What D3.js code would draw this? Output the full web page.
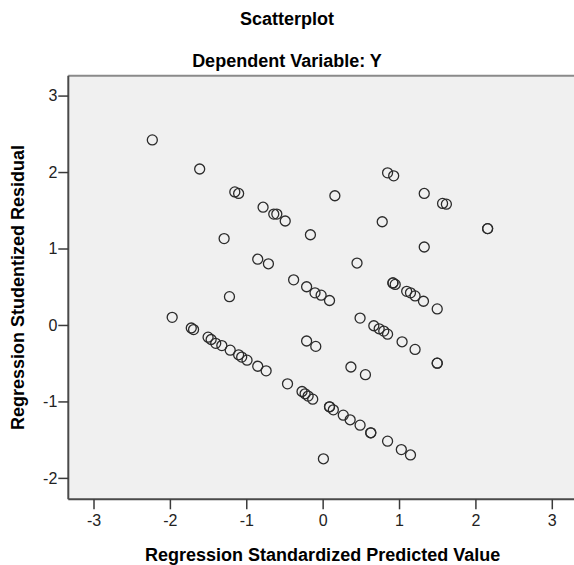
<!DOCTYPE html>
<html>
<head>
<meta charset="utf-8">
<script src="https://cdn.jsdelivr.net/npm/d3@7"></script>
<style>
  body { margin: 0; background: #fff; }
  text { font-family: Arial, "Liberation Sans", sans-serif; }
</style>
</head>
<body>
<div id="viz"></div>
<script>

// regression standardized predicted value (x) and studentized residual (y)
var predicted = [-2.23,-1.61,-1.15,-1.10,-0.78,-0.64,-0.60,-0.49,-0.16,-1.29,
  -0.85,-0.71,-0.38,0.85,0.93,0.16,1.33,1.57,1.62,0.78,
  2.16,2.16,1.33,0.45,-0.21,-0.10,-0.02,0.09,-1.22,-1.97,
  -1.72,-1.69,-1.50,-1.46,-1.40,-1.32,-1.21,-1.10,-1.06,-0.99,
  -0.85,-0.74,-0.46,-0.27,-0.23,-0.19,-0.13,-0.21,-0.09,0.92,
  0.92,0.95,1.10,1.15,1.21,1.32,1.50,0.49,0.67,0.74,
  0.80,0.85,1.04,1.21,1.50,1.50,0.37,0.56,0.09,0.09,
  0.14,0.27,0.36,0.49,0.63,0.63,0.85,1.03,1.15,0.01];

var residual = [2.42,2.04,1.74,1.72,1.54,1.45,1.45,1.36,1.18,1.13,
  0.86,0.80,0.59,1.99,1.95,1.69,1.72,1.59,1.58,1.35,
  1.26,1.26,1.02,0.81,0.50,0.42,0.39,0.32,0.37,0.10,
  -0.04,-0.06,-0.16,-0.19,-0.24,-0.27,-0.33,-0.39,-0.42,-0.46,
  -0.54,-0.60,-0.77,-0.87,-0.90,-0.93,-0.97,-0.21,-0.28,0.55,
  0.55,0.53,0.44,0.42,0.38,0.31,0.21,0.09,-0.01,-0.05,
  -0.08,-0.12,-0.22,-0.32,-0.50,-0.50,-0.55,-0.65,-1.07,-1.07,
  -1.11,-1.18,-1.24,-1.31,-1.41,-1.41,-1.52,-1.63,-1.70,-1.75];

var xTicks = [-3, -2, -1, 0, 1, 2, 3];
var yTicks = [-2, -1, 0, 1, 2, 3];

var title = "Scatterplot",
  subtitle = "Dependent Variable: Y",
  xTitle = "Regression Standardized Predicted Value",
  yTitle = "Regression Studentized Residual";

var width = 574, height = 565,
  plotL = 68.3, plotR = 577, plotT = 75.7, plotB = 499.3;

var x = d3.scaleLinear().domain([-3.33, 3.33]).range([plotL, plotR]);
var y = d3.scaleLinear().domain([-2.28, 3.26]).range([plotB, plotT]);

var svg = d3.select("#viz").append("svg")
  .attr("width", width)
  .attr("height", height);

// plot background
svg.append("rect")
  .attr("x", plotL).attr("y", plotT)
  .attr("width", plotR - plotL).attr("height", plotB - plotT)
  .attr("fill", "#f0f0f0");

svg.append("line")
  .attr("x1", plotL).attr("x2", plotR)
  .attr("y1", plotT).attr("y2", plotT)
  .attr("stroke", "#8a8a8a").attr("stroke-width", 2);

// axes
var xAxis = svg.append("g")
  .attr("transform", "translate(0," + plotB + ")")
  .call(d3.axisBottom(x).tickValues(xTicks).tickSize(10).tickPadding(5).tickFormat(String));

var yAxis = svg.append("g")
  .attr("transform", "translate(" + plotL + ",0)")
  .call(d3.axisLeft(y).tickValues(yTicks).tickSize(10).tickPadding(1).tickFormat(String));

[xAxis, yAxis].forEach(function(a) {
  a.select(".domain").attr("stroke", "#4a4a4a").attr("stroke-width", 2);
  a.selectAll(".tick line").attr("stroke", "#3a3a3a").attr("stroke-width", 1.5);
  a.selectAll(".tick text")
    .attr("fill", "#222")
    .style("font-size", "16px")
    .style("font-family", "Arial, 'Liberation Sans', sans-serif");
});
xAxis.select(".domain").attr("d", "M" + plotL + ",0H" + plotR);
yAxis.select(".domain").attr("d", "M0," + plotT + "V" + plotB);

// points
svg.append("g").selectAll("circle")
  .data(predicted)
  .join("circle")
  .attr("cx", function(d) { return x(d); })
  .attr("cy", function(d, i) { return y(residual[i]); })
  .attr("r", 5)
  .attr("fill", "none")
  .attr("stroke", "#2b2b2b")
  .attr("stroke-width", 1.3);

// titles
svg.append("text")
  .attr("x", width / 2).attr("y", 25)
  .attr("text-anchor", "middle")
  .style("font-size", "18px").style("font-weight", "bold")
  .text(title);

svg.append("text")
  .attr("x", width / 2).attr("y", 67)
  .attr("text-anchor", "middle")
  .style("font-size", "18px").style("font-weight", "bold")
  .text(subtitle);

svg.append("text")
  .attr("x", x(0)).attr("y", 561)
  .attr("text-anchor", "middle")
  .style("font-size", "18px").style("font-weight", "bold")
  .text(xTitle);

svg.append("text")
  .attr("transform", "translate(24," + ((plotT + plotB) / 2) + ") rotate(-90)")
  .attr("text-anchor", "middle")
  .style("font-size", "18px").style("font-weight", "bold")
  .text(yTitle);

</script>
</body>
</html>
